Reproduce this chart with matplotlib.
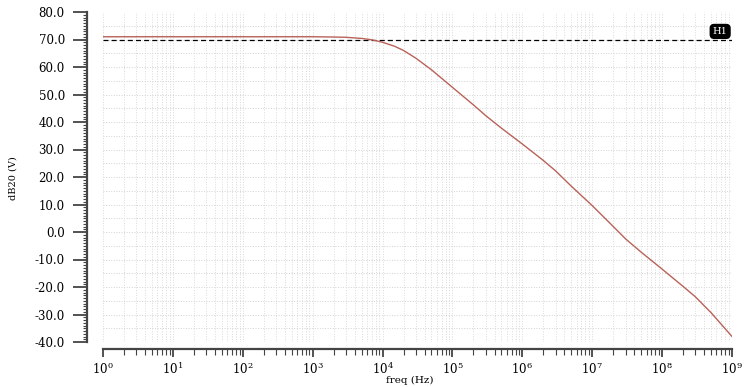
import numpy as np
import matplotlib
matplotlib.use("Agg")
import matplotlib.pyplot as plt
from matplotlib.ticker import LogLocator, MultipleLocator, FuncFormatter, NullFormatter
from matplotlib.transforms import blended_transform_factory

plt.rcParams['font.family'] = ['DejaVu Serif']
plt.rcParams['mathtext.fontset'] = 'dejavuserif'
plt.rcParams['axes.unicode_minus'] = False

# gain curve
freq = [1, 10, 100, 1e3, 2e3, 3e3, 5e3, 7e3, 1e4, 1.5e4, 2e4, 3e4, 5e4,
        1e5, 2e5, 3e5, 5e5, 1e6, 2e6, 3e6, 5e6, 1e7, 2e7, 3e7, 5e7,
        1e8, 2e8, 3e8, 5e8, 1e9]
gain_db = [71.0, 71.0, 71.0, 71.0, 70.9, 70.8, 70.4, 69.9, 69.0, 67.5, 66.0, 63.2, 59.0,
           52.6, 46.2, 42.3, 37.8, 32.0, 26.0, 22.2, 16.7, 9.6, 2.0, -2.5, -7.3,
           -13.5, -19.8, -23.6, -29.3, -38.0]
marker_level = 70.0
marker_label = 'H1'

W, H = 745, 387
fig = plt.figure(figsize=(W / 100, H / 100), dpi=100)
ax = fig.add_axes([103 / W, 1 - 342 / H, (732 - 103) / W, (342 - 12) / H])

ax.set_xscale('log')
ax.set_xlim(1, 1e9)
ax.set_ylim(-40, 80)

# grid
ax.grid(axis='x', which='both', ls=':', color='#dadada', lw=0.7)
for yy in np.arange(-35, 80, 5):
    ax.axhline(yy, ls=':', color='#d2d2d2', lw=0.7, zorder=0.5)

ax.plot(freq, gain_db, color='#b8625a', lw=1.0, zorder=3)
ax.axhline(marker_level, color='black', ls=(0, (4, 2.5)), lw=0.9, zorder=2)
tr = blended_transform_factory(ax.transAxes, ax.transData)
ax.text(0.993, marker_level + 1.3, marker_label, transform=tr, ha='right', va='bottom',
        color='white', fontsize=7, zorder=5, clip_on=False,
        bbox=dict(boxstyle='round,pad=0.25,rounding_size=0.4', fc='black', ec='black'))

# spines
for s in ['top', 'right']:
    ax.spines[s].set_visible(False)
ax.spines['left'].set_position(('outward', 11.5))
ax.spines['bottom'].set_position(('outward', 5))
for s in ['left', 'bottom']:
    ax.spines[s].set_color('#444444')
    ax.spines[s].set_linewidth(1.6)

ax.yaxis.set_major_locator(MultipleLocator(10))
ax.yaxis.set_minor_locator(MultipleLocator(1))
ax.yaxis.set_major_formatter(FuncFormatter(lambda v, p: f"{v:.1f}"))
ax.xaxis.set_major_locator(LogLocator(base=10, numticks=20))
ax.xaxis.set_minor_locator(LogLocator(base=10, subs=np.arange(2, 10), numticks=20))
ax.xaxis.set_minor_formatter(NullFormatter())

ax.tick_params(axis='y', which='major', direction='out', length=10, width=1.3,
               color='#444444', pad=6, labelsize=8.5)
ax.tick_params(axis='y', which='minor', direction='out', length=3, width=0.8, color='#444444')
ax.tick_params(axis='x', which='major', direction='out', length=6, width=1.3,
               color='#444444', pad=3, labelsize=8.5)
ax.tick_params(axis='x', which='minor', direction='out', length=4, width=0.8, color='#444444')

fig.text(13 / W, 1 - 178 / H, 'dB20 (V)', rotation=90, ha='center', va='center', fontsize=7)
fig.text(410 / W, 2 / H, 'freq (Hz)', ha='center', va='bottom', fontsize=7.5)

fig.savefig('out.png', dpi=100)
